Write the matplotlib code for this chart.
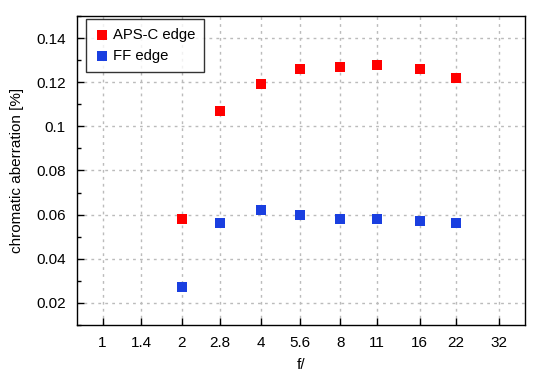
import matplotlib
matplotlib.use("Agg")
import matplotlib.pyplot as plt
from matplotlib.ticker import FixedLocator, NullFormatter, MultipleLocator

plt.rcParams['font.family'] = ['Liberation Sans', 'DejaVu Sans']

f_stops = [1, 1.4, 2, 2.8, 4, 5.6, 8, 11, 16, 22, 32]
f_labels = ["1", "1.4", "2", "2.8", "4", "5.6", "8", "11", "16", "22", "32"]
f_data = [2, 2.8, 4, 5.6, 8, 11, 16, 22]
apsc_edge = [0.058, 0.107, 0.119, 0.126, 0.127, 0.128, 0.126, 0.122]
ff_edge = [0.027, 0.056, 0.062, 0.060, 0.058, 0.058, 0.057, 0.056]

fig = plt.figure(figsize=(5.5, 3.8), dpi=100)
ax = fig.add_axes([77/550, 1-325/380, (525-77)/550, (325-16)/380])

ax.set_xscale('log')
ax.set_xlim(0.8, 40.2)
ax.set_ylim(0.01, 0.15)

ax.scatter(f_data, apsc_edge, marker='s', s=42, color='#ff0000', label='APS-C edge', zorder=3, linewidths=0)
ax.scatter(f_data, ff_edge, marker='s', s=42, color='#1a3fe0', label='FF edge', zorder=3, linewidths=0)

ax.set_xticks(f_stops)
ax.set_xticklabels(f_labels)
ax.xaxis.set_minor_locator(FixedLocator([]))
ax.xaxis.set_minor_formatter(NullFormatter())
ax.yaxis.set_major_locator(FixedLocator([0.02, 0.04, 0.06, 0.08, 0.10, 0.12, 0.14]))
ax.set_yticklabels(["0.02", "0.04", "0.06", "0.08", "0.1", "0.12", "0.14"])
ax.yaxis.set_minor_locator(MultipleLocator(0.01))

ax.tick_params(which='both', direction='in', labelsize=11, colors='black')
ax.tick_params(which='major', length=5, width=1)
ax.tick_params(which='minor', length=3, width=1)
ax.tick_params(axis='y', pad=8)
ax.tick_params(axis='x', pad=8)

ax.grid(True, which='major', linestyle=(0, (2, 3)), color='#bbbbbb', linewidth=1)
for s in ax.spines.values():
    s.set_linewidth(1)
    s.set_color('black')

ax.set_xlabel('f/', fontsize=11, labelpad=6)
ax.set_ylabel('chromatic aberration [%]', fontsize=11, labelpad=9)

leg = ax.legend(loc='upper left', frameon=True, fancybox=False, fontsize=10.7,
                handletextpad=0.3, borderpad=0.6, handlelength=0.9,
                borderaxespad=0, bbox_to_anchor=(9/448, 1-3/309), labelspacing=0.45)
leg.get_frame().set_edgecolor('black')
leg.get_frame().set_linewidth(1)

fig.savefig('out.png', dpi=100)
